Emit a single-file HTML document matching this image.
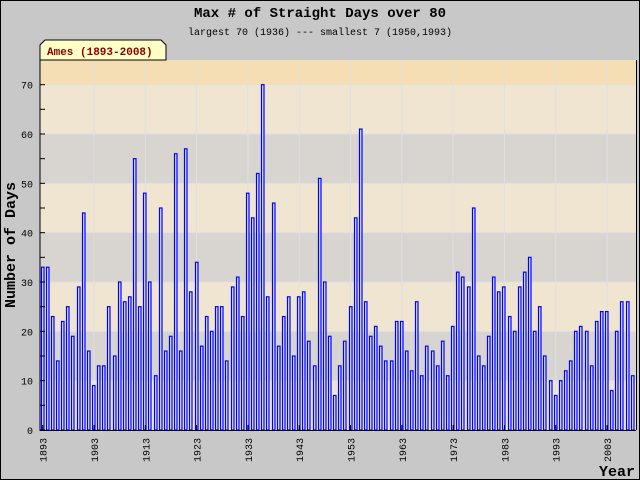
<!DOCTYPE html>
<html><head><meta charset="utf-8"><style>
body{margin:0;background:#c8c8c8}
svg{display:block}
text{font-family:"Liberation Mono","DejaVu Sans Mono",monospace}
</style></head><body>
<svg id="chart" width="640" height="480" xmlns="http://www.w3.org/2000/svg">
<rect x="0.5" y="0.5" width="639" height="479" fill="#c8c8c8" stroke="#000"/>
<g id="bands"></g>
<g id="grid"></g>
<g id="bars"></g>
<g id="axes"></g>
<text x="320" y="17" text-anchor="middle" font-size="14" font-weight="bold">Max # of Straight Days over 80</text>
<text x="320" y="35" text-anchor="middle" font-size="10">largest 70 (1936) --- smallest 7 (1950,1993)</text>
<path d="M40,60 L40,45 L45,40 L161,40 L166,45 L166,60 Z" fill="#ffffc8" stroke="#000"/>
<text x="47" y="55" font-size="11" font-weight="bold" fill="#8b0000">Ames (1893-2008)</text>
<text transform="translate(15,245) rotate(-90)" text-anchor="middle" font-size="15" font-weight="bold">Number of Days</text>
<text x="635" y="476" text-anchor="end" font-size="15" font-weight="bold">Year</text>
</svg>
<script>
const startYear = 1893;
const values = [33,33,23,14,22,25,19,29,44,16,9,13,13,25,15,30,26,27,55,25,48,30,11,45,16,19,56,16,57,28,34,17,23,20,25,25,14,29,31,23,48,43,52,70,27,46,17,23,27,15,27,28,18,13,51,30,19,7,13,18,25,43,61,26,19,21,17,14,14,22,22,16,12,26,11,17,16,13,18,11,21,32,31,29,45,15,13,19,31,28,29,23,20,29,32,35,20,25,15,10,7,10,12,14,20,21,20,13,22,24,24,8,20,26,26,11];
const yTicks = [0,10,20,30,40,50,60,70];
const xTickYears = [1893,1903,1913,1923,1933,1943,1953,1963,1973,1983,1993,2003];
const NS='http://www.w3.org/2000/svg';
const L=40,R=636,T=60,B=430,YMAX=75;
const step=(632.7-42.7)/115;
const xs=i=>42.7+i*step;
const ys=v=>B-(v/YMAX)*(B-T);
function mk(tag,parent){const e=document.createElementNS(NS,tag);document.getElementById(parent).appendChild(e);return e;}
for(let v=0;v<YMAX;v+=10){
  const top=Math.min(v+10,YMAX);
  const r=mk('rect','bands');
  
  
  r.setAttribute('x',L);r.setAttribute('y',ys(top));r.setAttribute('width',R-L);r.setAttribute('height',ys(v)-ys(top));
  r.setAttribute('fill',((v/10)%2===0)?'#f0e5d0':'#d8d5d0');
}
const ob=mk('rect','bands');


ob.setAttribute('x',L);ob.setAttribute('y',T);ob.setAttribute('width',R-L);ob.setAttribute('height',ys(70)-T);ob.setAttribute('fill','#f5deb3');
yTicks.forEach(v=>{const l=mk('line','grid');


l.setAttribute('x1',L);l.setAttribute('x2',R);l.setAttribute('y1',ys(v));l.setAttribute('y2',ys(v));l.setAttribute('stroke','#e0e0e0');});
xTickYears.forEach(y=>{if(y===startYear)return;const x=xs(y-startYear);const l=mk('line','grid');


l.setAttribute('x1',x);l.setAttribute('x2',x);l.setAttribute('y1',T);l.setAttribute('y2',B);l.setAttribute('stroke','#e0e0e0');});
values.forEach((v,i)=>{const r=mk('rect','bars');


r.setAttribute('x',Math.round(xs(i))-1.5);r.setAttribute('y',ys(v));r.setAttribute('width',2.5);r.setAttribute('height',B-ys(v));
r.setAttribute('fill','#d8e0f8');r.setAttribute('stroke','#0000ff');r.setAttribute('stroke-width','1.2');});
const ax=mk('path','axes');


ax.setAttribute('d',`M${L},${T} L${L},${B+0.5} L${R},${B+0.5} M${R+0.5},${T} L${R+0.5},${B}`);ax.setAttribute('stroke','#000');ax.setAttribute('fill','none');
for(let v=0;v<=YMAX;v+=5){const t=mk('line','axes');


t.setAttribute('x1',L);t.setAttribute('x2',L+5);t.setAttribute('y1',ys(v));t.setAttribute('y2',ys(v));t.setAttribute('stroke','#000');}
yTicks.forEach(v=>{const t=mk('text','axes');


t.setAttribute('x',33);t.setAttribute('y',ys(v)+4);t.setAttribute('text-anchor','end');t.setAttribute('font-size','10');t.textContent=v;});
xTickYears.forEach(y=>{const x=xs(y-startYear);
const tk=mk('line','axes');


tk.setAttribute('x1',x);tk.setAttribute('x2',x);tk.setAttribute('y1',B-5);tk.setAttribute('y2',B);tk.setAttribute('stroke','#000');
const t=mk('text','axes');


t.setAttribute('transform',`translate(${x+4},${B+8}) rotate(-90)`);t.setAttribute('text-anchor','end');t.setAttribute('font-size','10');t.textContent=y;});
</script>
</body></html>
